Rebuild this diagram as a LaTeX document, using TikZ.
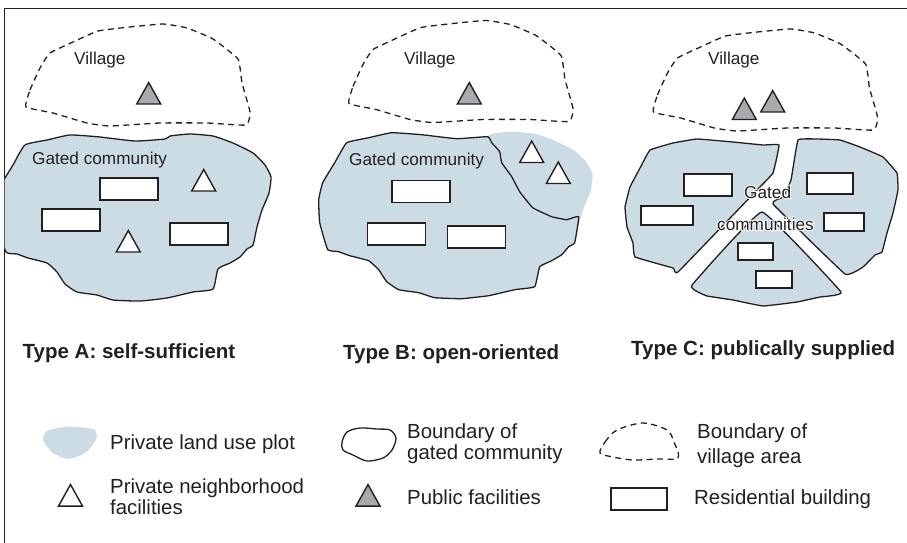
\documentclass[tikz,border=0pt]{standalone}
\usepackage{fontspec}
\setmainfont{Liberation Sans}
\newfontfamily\halofont[FakeBold=12]{Liberation Sans}
\usetikzlibrary{shapes.geometric}
\definecolor{plotcolor}{RGB}{204, 220, 229}
\definecolor{pubcolor}{RGB}{168, 170, 174}
\definecolor{inkcolor}{RGB}{35, 31, 32}
\tikzstyle{plot_fill} = [fill=plotcolor, draw=none]
\tikzstyle{solid_line} = [draw=inkcolor, line width=1.3pt, line join=round]
\tikzstyle{lobe} = [solid_line, fill=plotcolor]
\tikzstyle{village_line} = [draw=inkcolor, line width=1.3pt, dash pattern=on 6pt off 4.5pt]
\tikzstyle{house} = [rectangle, draw=inkcolor, fill=white, line width=1.5pt, inner sep=0pt]
\tikzstyle{tri} = [isosceles triangle, isosceles triangle stretches, shape border rotate=90, draw=inkcolor, line width=1.4pt, inner sep=0pt, minimum width=24pt, minimum height=21.5pt, anchor=center]
\tikzstyle{private_tri} = [tri, fill=white]
\tikzstyle{public_tri} = [tri, fill=pubcolor]
\tikzstyle{small_label} = [font=\fontsize{17.2}{17}\selectfont, text=inkcolor, inner sep=0pt, anchor=base west]
\tikzstyle{legend_label} = [font=\fontsize{20.4}{21}\selectfont, text=inkcolor, inner sep=0pt, anchor=base west, align=left]
\tikzstyle{type_label} = [font=\fontsize{20.5}{20}\selectfont\bfseries, text=inkcolor, inner sep=0pt, anchor=base west]
\newcommand{\gatedplot}{(25,145) (47,140) (70,135) (100,137) (135,141) (165,139) (170,136) (190,134) (213,136) (233,143) (253,153) (265,165) (271,177) (269,193) (262,210) (257,227) (253,245) (247,249) (240,257) (230,263) (218,269) (213,289) (193,292) (167,298) (140,301) (113,300) (97,295) (77,292) (65,284) (57,272) (47,263) (28,258) (17,254) (6,252) (-2,225) (-3,202) (1,185) (13,165)}
\newcommand{\villageplot}{(26,107) (30,90) (40,68) (50,53) (73,42) (98,31) (130,27) (163,24) (187,28) (213,39) (238,59) (242,83) (250,112) (246,125) (207,123) (160,123) (110,126) (87,123) (53,113)}
\newcommand{\halotext}[1]{\leavevmode\rlap{\halofont\color{white}#1}#1}

\begin{document}
\begin{tikzpicture}[x=1pt, y=-1pt]
\useasboundingbox (0,0) rectangle (907,543);

% Frame
\draw[draw=inkcolor, line width=1.2pt] (4.5,543) -- (4.5,8.5) -- (907,8.5);

% Type A
\draw[village_line] plot[smooth cycle, tension=0.25] coordinates {\villageplot};
\begin{scope}
\clip (4.5,0) rectangle (300,330);
\draw[lobe] plot[smooth cycle, tension=0.3] coordinates {\gatedplot};
\end{scope}
\node[house, minimum width=58pt, minimum height=22pt] (a1) at (129,189) {};
\node[house, minimum width=58pt, minimum height=22pt] (a2) at (71,220) {};
\node[house, minimum width=58pt, minimum height=22pt] (a3) at (199,234) {};
\node[public_tri] (a4) at (148.7,97) {};
\node[private_tri] (a5) at (203.7,184) {};
\node[private_tri] (a6) at (128.3,245) {};
\node[small_label] (a7) at (74,65) {Village};
\node[small_label] (a8) at (32,164) {Gated community};
\node[type_label] (a9) at (22.5,358) {Type A: self-sufficient};

% Type B
\begin{scope}[shift={(323,-3.5)}]
\draw[village_line] plot[smooth cycle, tension=0.25] coordinates {\villageplot};
\end{scope}
\begin{scope}[shift={(321.7,-2.3)}]
\fill[plot_fill] plot[smooth cycle, tension=0.3] coordinates {\gatedplot};
\draw[lobe] plot[smooth cycle, tension=0.2] coordinates {(25,145) (47,140) (70,135) (100,137) (135,141) (166,139) (170,145) (178,154) (180,165) (190,179) (198,194) (211,210) (230,219) (245,222) (257,219) (253,245) (247,249) (240,257) (230,263) (218,269) (213,289) (193,292) (167,298) (140,301) (113,300) (97,295) (77,292) (65,284) (57,272) (47,263) (28,258) (17,254) (6,252) (-2,225) (-3,202) (1,185) (13,165)};
\end{scope}
\node[house, minimum width=58pt, minimum height=22pt] (b1) at (421,191.5) {};
\node[house, minimum width=58pt, minimum height=22pt] (b2) at (396.5,234) {};
\node[house, minimum width=58pt, minimum height=22pt] (b3) at (476.5,237) {};
\node[public_tri] (b4) at (469.3,97) {};
\node[private_tri] (b5) at (531.7,155.5) {};
\node[private_tri] (b6) at (558.3,176.5) {};
\node[small_label] (b7) at (404,65) {Village};
\node[small_label] (b8) at (349,165) {Gated community};
\node[type_label] (b9) at (343,359) {Type B: open-oriented};

% Type C
\begin{scope}[shift={(627.5,5)}]
\draw[village_line] plot[smooth cycle, tension=0.25] coordinates {\villageplot};
\end{scope}
\draw[lobe] plot[smooth cycle, tension=0.15] coordinates {(779,145) (773,173) (757,190) (678,272) (673,268) (635,257) (633,243) (627,227) (625,207) (630,187) (640,168) (650,150) (673,143) (697,139) (733,142) (763,145)};
\draw[lobe] plot[smooth cycle, tension=0.15] coordinates {(798,140) (817,139) (840,140) (860,147) (883,157) (897,173) (898,190) (893,213) (887,233) (882,252) (875,255) (863,267) (845,274) (773,204) (783,197) (791,180)};
\draw[lobe] plot[smooth cycle, tension=0.15] coordinates {(762,212) (692,285) (698,292) (707,296) (733,300) (763,306) (797,302) (820,297) (841,292)};
\node[house, minimum width=48pt, minimum height=22pt] (c1) at (708,185) {};
\node[house, minimum width=52pt, minimum height=19pt] (c2) at (667,215.5) {};
\node[house, minimum width=46pt, minimum height=21pt] (c3) at (830,183.5) {};
\node[house, minimum width=40pt, minimum height=18pt] (c4) at (844,222) {};
\node[house, minimum width=35pt, minimum height=17pt] (c5) at (755.5,251.5) {};
\node[house, minimum width=36pt, minimum height=17pt] (c6) at (774,279.5) {};
\node[public_tri] (c7) at (744.3,112.5) {};
\node[public_tri] (c8) at (772.7,105) {};
\node[small_label] (c9) at (708,65) {Village};
\node[small_label] (c10) at (744,198) {\halotext{Gated}};
\node[small_label] (c11) at (717,230) {\halotext{communities}};
\node[type_label] (c12) at (631,355) {Type C: publically supplied};

% Legend
\fill[plot_fill] plot[smooth cycle, tension=0.4] coordinates {(43,440) (47,431) (63,427) (80,427) (95,430) (96,440) (85,453) (68,459) (53,453)};
\draw[solid_line] plot[smooth cycle, tension=0.5] coordinates {(342,442) (347,432) (360,428) (377,429) (390,430) (396,438) (392,450) (383,458) (367,461) (353,455) (343,450)};
\draw[village_line] plot[smooth cycle, tension=0.5] coordinates {(600,453) (605,442) (617,430) (643,423) (667,430) (674,442) (678,458) (657,459) (633,460) (613,457)};
\node[private_tri] (k1) at (70.5,499) {};
\node[public_tri] (k2) at (368,499) {};
\node[house, minimum width=56pt, minimum height=22pt] (k3) at (639,499) {};
\node[legend_label] (k4) at (110,449) {Private land use plot};
\node[legend_label] (k5) at (110,493) {Private neighborhood};
\node[legend_label] (k6) at (110,514) {facilities};
\node[legend_label] (k7) at (407,438) {Boundary of};
\node[legend_label] (k8) at (407,459) {gated community};
\node[legend_label] (k9) at (407,504) {Public facilities};
\node[legend_label] (k10) at (697,438) {Boundary of};
\node[legend_label] (k11) at (697,463) {village area};
\node[legend_label] (k12) at (694,504) {Residential building};

\end{tikzpicture}
\end{document}
